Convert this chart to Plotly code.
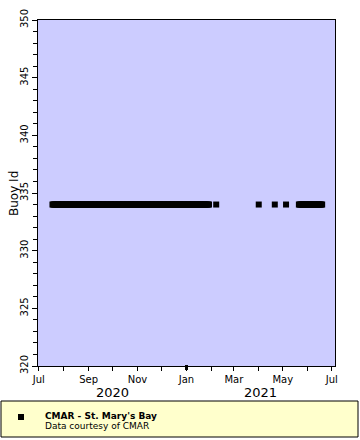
import pandas as pd
import plotly.graph_objects as go

# ---- data ----
buoy_id = 334
# continuous observation segments (start, end)
segment_starts = ["2020-07-18", "2021-05-21"]
segment_ends = ["2021-01-29", "2021-06-19"]
# isolated observation days
single_days = ["2021-02-07", "2021-04-01", "2021-04-21", "2021-05-05"]
series_name = "CMAR - St. Mary's Bay"
series_note = "Data courtesy of CMAR"
y_title = "Buoy Id"
year_labels = ["2020", "2021"]
year_spans = [("2020-06-30", "2021-01-01"), ("2021-01-01", "2021-07-05")]

dates = []
for s, e in zip(segment_starts, segment_ends):
    dates += list(pd.date_range(s, e, freq="D"))
dates += [pd.Timestamp(d) for d in single_days]
dates = sorted(dates)
values = [buoy_id] * len(dates)

W, H = 360, 440
L, R, T, B = 38, 335, 20, 366


def px(x):
    return (x - L) / (R - L)


def py(y):
    return (B - y) / (B - T)


FONT = "DejaVu Sans"

fig = go.Figure()
fig.add_trace(go.Scatter(
    x=dates, y=values, mode="markers",
    marker=dict(symbol="square", size=6, color="black", line=dict(width=0)),
    showlegend=False, hoverinfo="x+y",
))

fig.update_layout(
    width=W, height=H,
    margin=dict(l=L, r=W - R, t=T, b=H - B, pad=0, autoexpand=False),
    paper_bgcolor="white", plot_bgcolor="#ccccff",
    font=dict(family=FONT, size=10, color="black"),
    showlegend=False,
)
fig.update_xaxes(
    type="date", range=["2020-06-30", "2021-07-05"],
    tick0="2020-07-01", dtick="M2", tickformat="%b",
    ticks="outside", ticklen=4, tickcolor="black", tickwidth=1,
    minor=dict(dtick="M1", ticks="outside", ticklen=4, tickcolor="black"),
    showline=True, linecolor="black", linewidth=1, mirror=True,
    showgrid=False, zeroline=False, tickfont=dict(size=10, family=FONT),
    automargin=False,
)
fig.update_yaxes(
    range=[320, 350], tick0=320, dtick=5,
    ticks="outside", ticklen=5, tickcolor="black", tickangle=-90,
    minor=dict(dtick=1, ticks="outside", ticklen=4, tickcolor="black"),
    showline=True, linecolor="black", linewidth=1, mirror=True,
    showgrid=False, zeroline=False, tickfont=dict(size=10, family=FONT),
    automargin=False,
)

shapes = []
# thick year-boundary tick
shapes.append(dict(type="line", xref="x", yref="paper", x0="2021-01-01", x1="2021-01-01",
                   y0=py(365), y1=py(370), line=dict(color="black", width=3)))
# legend box
shapes.append(dict(type="rect", xref="paper", yref="paper",
                   x0=px(1), x1=px(358), y0=py(401), y1=py(437),
                   fillcolor="#ffffcc", line=dict(color="black", width=1), layer="above"))
shapes.append(dict(type="rect", xref="paper", yref="paper",
                   x0=px(18), x1=px(24), y0=py(414), y1=py(420),
                   fillcolor="black", line=dict(width=0), layer="above"))
fig.update_layout(shapes=shapes)

ann = []
for lbl, (a, b) in zip(year_labels, year_spans):
    mid = pd.Timestamp(a) + (pd.Timestamp(b) - pd.Timestamp(a)) / 2
    ann.append(dict(x=mid, y=py(392), xref="x", yref="paper", text=lbl, showarrow=False,
                    font=dict(size=13, family=FONT), xanchor="center", yanchor="middle"))
ann.append(dict(x=px(14), y=py(193), xref="paper", yref="paper", text=y_title, textangle=-90,
                showarrow=False, xanchor="center", yanchor="middle", font=dict(size=12, family=FONT)))
ann.append(dict(x=px(43), y=py(416), xref="paper", yref="paper", text="<b>" + series_name + "</b>",
                showarrow=False, xanchor="left", yanchor="middle", font=dict(size=9, family=FONT)))
ann.append(dict(x=px(43), y=py(426), xref="paper", yref="paper", text=series_note,
                showarrow=False, xanchor="left", yanchor="middle", font=dict(size=9, family=FONT)))
fig.update_layout(annotations=ann)

fig.write_html("out.html", post_script="document.body.style.margin='0px';",
               config={"displayModeBar": False})
